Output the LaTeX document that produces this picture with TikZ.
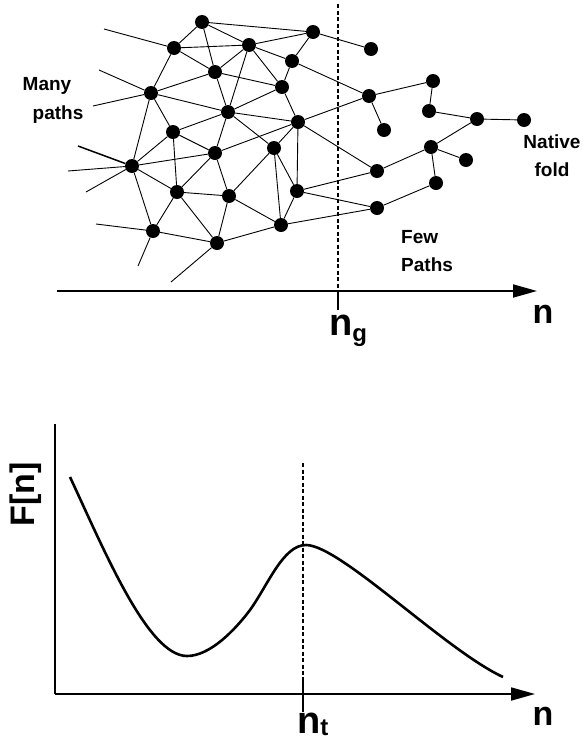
\documentclass[tikz,border=0pt]{standalone}
\usepackage{fontspec}
\setmainfont{Liberation Sans}
\usetikzlibrary{arrows.meta}
\tikzstyle{site} = [circle, fill=black, inner sep=0pt, minimum size=14pt]
\tikzstyle{link} = [draw, line width=0.9pt]
\tikzstyle{axis} = [draw, line width=1.8pt]
\tikzstyle{arrow} = [axis, -{Triangle[length=24pt, width=13pt]}]
\tikzstyle{guide} = [draw, line width=1.1pt, dash pattern=on 4pt off 2.5pt]
\tikzstyle{caption} = [inner sep=0pt, font=\bfseries\fontsize{19}{28}\selectfont]
\tikzstyle{biglabel} = [inner sep=0pt, font=\bfseries\fontsize{34}{34}\selectfont]
\tikzstyle{sublabel} = [inner sep=0pt, font=\bfseries\fontsize{38}{38}\selectfont]
\newcommand{\subtext}[2]{\raisebox{#1}{\fontsize{24}{24}\selectfont #2}}

\begin{document}
\begin{tikzpicture}[x=1pt, y=-1pt]
    \useasboundingbox (0,0) rectangle (582,742);

    % many paths
    \node[site] at (202,22) (m1) {};
    \node[site] at (174,48) (m2) {};
    \node[site] at (249,45) (m3) {};
    \node[site] at (313,32) (m4) {};
    \node[site] at (292,61) (m5) {};
    \node[site] at (215,72) (m6) {};
    \node[site] at (282,87) (m7) {};
    \node[site] at (151,93) (m8) {};
    \node[site] at (228,112) (m9) {};
    \node[site] at (298,122) (m10) {};
    \node[site] at (173,132) (m11) {};
    \node[site] at (215,153) (m12) {};
    \node[site] at (274,148) (m13) {};
    \node[site] at (132,166) (m14) {};
    \node[site] at (177,192) (m15) {};
    \node[site] at (229,196) (m16) {};
    \node[site] at (297,191) (m17) {};
    \node[site] at (153,231) (m18) {};
    \node[site] at (217,243) (m19) {};
    \node[site] at (281,225) (m20) {};

    % few paths
    \node[site] at (371,49) (f1) {};
    \node[site] at (369,96) (f2) {};
    \node[site] at (433,81) (f3) {};
    \node[site] at (429,111) (f4) {};
    \node[site] at (477,119) (f5) {};
    \node[site] at (524,120) (native) {};
    \node[site] at (384,130) (f6) {};
    \node[site] at (431,147) (f7) {};
    \node[site] at (466,160) (f8) {};
    \node[site] at (377,171) (f9) {};
    \node[site] at (436,183) (f10) {};
    \node[site] at (377,208) (f11) {};

    \coordinate (e1) at (104,29);
    \coordinate (e2) at (99,70);
    \coordinate (e3) at (93,106);
    \coordinate (e4) at (78,146);
    \coordinate (e5) at (68,171);
    \coordinate (e6) at (86,192);
    \coordinate (e7) at (96,224);
    \coordinate (e8) at (138,266);
    \coordinate (e9) at (171,282);

    \path[link] (m1) -- (m2) (m1) -- (m6) (m1) -- (m3) (m1) -- (m4);
    \path[link] (m2) -- (e1) (m2) -- (m3) (m2) -- (m6) (m2) -- (m8);
    \path[link] (m3) -- (m6) (m3) -- (m4) (m3) -- (m5) (m3) -- (m7) (m3) -- (m9);
    \path[link] (m4) -- (m5) (m4) -- (f1);
    \path[link] (m5) -- (m7) (m5) -- (f2);
    \path[link] (m6) -- (m8) (m6) -- (m9) (m6) -- (m7);
    \path[link] (m7) -- (m9) (m7) -- (m10);
    \path[link] (m8) -- (e2) (m8) -- (e3) (m8) -- (m9) (m8) -- (m11) (m8) -- (m14);
    \path[link] (m9) -- (m11) (m9) -- (m12) (m9) -- (m13) (m9) -- (m10);
    \path[link] (m10) -- (m12) (m10) -- (m13) (m10) -- (m17) (m10) -- (f2) (m10) -- (f9);
    \path[link] (m11) -- (m12) (m11) -- (m14) (m11) -- (m15);
    \path[link] (m12) -- (m14) (m12) -- (m15) (m12) -- (m16);
    \path[link] (m13) -- (m16) (m13) -- (m20) (m13) -- (m17);
    \path[link, line width=1.5pt] (m14) -- (e4);
    \path[link] (m14) -- (e5) (m14) -- (e6) (m14) -- (m15) (m14) -- (m18);
    \path[link] (m15) -- (m16) (m15) -- (m18) (m15) -- (m19);
    \path[link] (m16) -- (m19) (m16) -- (m20);
    \path[link] (m17) -- (m20) (m17) -- (f9) (m17) -- (f11);
    \path[link] (m18) -- (m19) (m18) -- (e7) (m18) -- (e8);
    \path[link] (m19) -- (m20) (m19) -- (e9);
    \path[link] (m20) -- (f11);
    \path[link] (f2) -- (f3) (f2) -- (f6) (f3) -- (f4) (f4) -- (f5) (f5) -- (native) (f5) -- (f7);
    \path[link] (f7) -- (f8) (f7) -- (f9) (f7) -- (f10) (f10) -- (f11);

    \node[caption] at (47,86) (many) {Many};
    \node[caption] at (58,115) (manyb) {paths};
    \node[caption, align=left, anchor=west] at (401,251) (few) {Few\\Paths};
    \node[caption, align=center] at (552,156) (fold) {Native\\fold};

    % top axis
    \coordinate (ostart) at (57,291);
    \coordinate (oend) at (537,291);
    \coordinate (gtop) at (338,4);
    \coordinate (gaxis) at (338,291);
    \coordinate (gtick) at (338,310);
    \path[arrow] (ostart) -- (oend);
    \path[guide] (gtop) -- (gaxis);
    \path[axis] (gaxis) -- (gtick);
    \node[sublabel, anchor=base west] at (329,335) (ng) {n\subtext{-6pt}{g}};
    \node[biglabel, anchor=base] at (543,323) (n1) {n};

    % free energy plot
    \coordinate (yend) at (55,424);
    \coordinate (origin) at (55,694);
    \coordinate (xend) at (535,694);
    \coordinate (ttop) at (303,463);
    \coordinate (tup) at (303,677);
    \coordinate (tdown) at (303,712);
    \path[axis] (yend) -- (origin);
    \path[arrow] (origin) -- (xend);
    \path[guide] (ttop) -- (tup);
    \path[axis] (tup) -- (tdown);
    \draw[line width=2.6pt] (70,477) .. controls (105,552) and (148,656) .. (187,656)
        .. controls (210,656) and (235,630) .. (250,610)
        .. controls (268,585) and (283,545) .. (306,545)
        .. controls (340,545) and (445,650) .. (503,677);
    \node[biglabel, rotate=90] at (26,494) (fn) {F[n]};
    \node[sublabel, anchor=base west] at (297,733) (nt) {n\subtext{-2pt}{t}};
    \node[biglabel, anchor=base] at (543,725) (n2) {n};
\end{tikzpicture}
\end{document}
